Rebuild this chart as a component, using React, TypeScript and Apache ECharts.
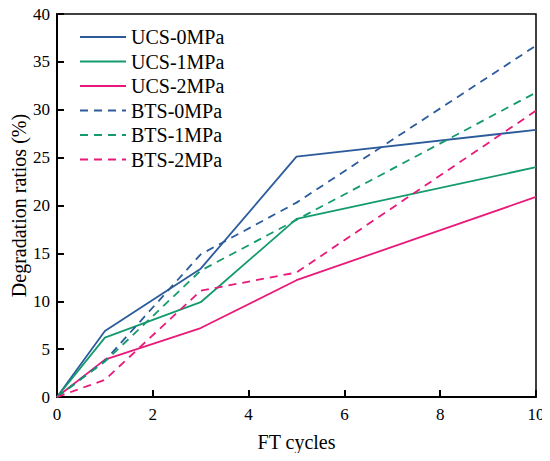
import React, { useEffect, useRef } from "react";
import * as echarts from "echarts";

const cycles = [0, 1, 3, 5, 10];
const ucs0 = [0, 6.9, 13.4, 25.1, 27.9];
const ucs1 = [0, 6.2, 9.9, 18.6, 24.0];
const ucs2 = [0, 3.9, 7.2, 12.2, 20.9];
const bts0 = [0, 3.8, 14.9, 20.3, 36.7];
const bts1 = [0, 3.7, 13.2, 18.5, 31.8];
const bts2 = [0, 1.8, 11.1, 13.0, 29.9];

const names = ["UCS-0MPa", "UCS-1MPa", "UCS-2MPa", "BTS-0MPa", "BTS-1MPa", "BTS-2MPa"];
const colors = ["#2c5b9c", "#139b6c", "#e8197a", "#2c5b9c", "#139b6c", "#e8197a"];
const seriesData = [ucs0, ucs1, ucs2, bts0, bts1, bts2];

const FONT = "Liberation Serif";

export default function App() {
  const ref = useRef<HTMLDivElement>(null);
  useEffect(() => {
    if (!ref.current) return;
    const chart = echarts.init(ref.current, undefined, { renderer: "svg" });
    chart.setOption({
      animation: false,
      grid: {
        left: 57,
        right: 14,
        top: 14,
        bottom: 64,
        containLabel: false,
        outerBoundsMode: "none",
        show: true,
        borderColor: "#000",
        borderWidth: 1.5,
        backgroundColor: "transparent",
      },
      legend: {
        orient: "vertical",
        left: 79,
        top: 27,
        padding: 0,
        itemWidth: 46,
        itemHeight: 14,
        itemGap: 4.5,
        itemStyle: { opacity: 0 },
        textStyle: { fontFamily: FONT, fontSize: 20, color: "#000" },
        data: names,
      },
      xAxis: {
        type: "value",
        min: 0,
        max: 10,
        interval: 2,
        name: "FT cycles",
        nameLocation: "middle",
        nameGap: 35,
        nameMoveOverlap: false,
        nameTextStyle: { fontFamily: FONT, fontSize: 20, color: "#000" },
        axisLine: { show: true, lineStyle: { color: "#000", width: 2 } },
        axisTick: { show: true, inside: true, length: 7, lineStyle: { color: "#000", width: 2 } },
        axisLabel: { fontFamily: FONT, fontSize: 17, color: "#000", margin: 9 },
        splitLine: { show: false },
      },
      yAxis: {
        type: "value",
        min: 0,
        max: 40,
        interval: 5,
        name: "Degradation ratios (%)",
        nameLocation: "middle",
        nameGap: 28,
        nameMoveOverlap: false,
        nameTextStyle: { fontFamily: FONT, fontSize: 20, color: "#000" },
        axisLine: { show: true, lineStyle: { color: "#000", width: 2 } },
        axisTick: { show: true, inside: true, length: 7, lineStyle: { color: "#000", width: 2 } },
        axisLabel: { fontFamily: FONT, fontSize: 17, color: "#000", margin: 7 },
        splitLine: { show: false },
      },
      series: names.map((n, i) => ({
        name: n,
        type: "line",
        data: cycles.map((c, j) => [c, seriesData[i][j]]),
        symbol: "none",
        color: colors[i],
        lineStyle: {
          color: colors[i],
          width: 1.8,
          type: i >= 3 ? [8, 6] : "solid",
        },
      })),
    });
    return () => chart.dispose();
  }, []);
  return <div ref={ref} style={{ width: 550, height: 461, margin: -8 }} />;
}
